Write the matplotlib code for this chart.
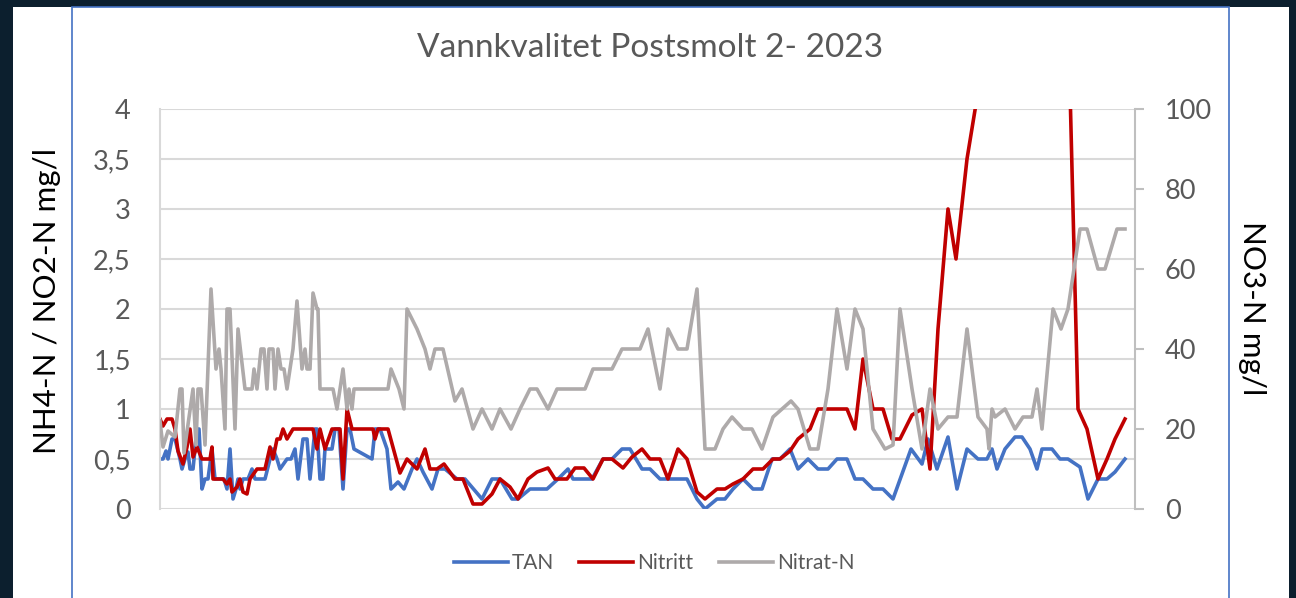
import matplotlib
matplotlib.use("Agg")
import matplotlib.pyplot as plt
from matplotlib.patches import Rectangle
from matplotlib.ticker import MultipleLocator, FuncFormatter

# ---------------- data (day index from start of period) ----------------
tan_day = [0, 0.6, 1.2, 1.6, 2.4, 3, 4, 4.4, 5, 5.6, 6, 6.6, 7.4, 7.8, 8.4, 9, 9.6, 10.4, 11, 12.8,
           13.4, 14, 14.6, 15.2, 15.6, 16, 16.6, 17.6, 18.4, 19, 21, 22, 22.6, 23.4, 24, 25.4, 26.2, 27,
           27.6, 28.6, 29.4, 30, 31, 31.4, 32, 32.6, 33, 34.4, 35, 35.8, 36.6, 37.4, 38, 38.8, 42.4, 43,
           44, 45.4, 46.2, 47.6, 48.8, 50.4, 51.4, 52.6, 54.4, 55.6, 57, 59.4, 61, 64.4, 66.4, 68, 70.4,
           71.6, 74, 77.4, 79.6, 81.6, 82.6, 86.4, 88.6, 90.4, 92.4, 94, 96.4, 98, 100, 105.4, 107.4, 109,
           111.4, 113, 114.6, 116.6, 118.6, 120.4, 122.4, 124, 126, 127.6, 129.6, 131.6, 133.6, 135.4,
           137.4, 139, 140.6, 142.6, 144.6, 146.6, 150.2, 152.4, 153.6, 155.4, 157.6, 159.4, 161.4, 163.6,
           165.4, 166.4, 167.4, 169, 171, 172.4, 174, 175.4, 176.4, 178.4, 180, 181.6, 184, 185.6, 187.6,
           189.4, 191, 193]
tan_val = [0.5, 0.5, 0.58, 0.5, 0.7, 0.7, 0.5, 0.4, 0.5, 0.57, 0.4, 0.4, 0.8, 0.8, 0.2, 0.3, 0.3, 0.6, 0.3, 0.3,
           0.2, 0.6, 0.1, 0.2, 0.3, 0.2, 0.3, 0.3, 0.4, 0.3, 0.3, 0.5, 0.6, 0.5, 0.4, 0.5, 0.5, 0.6,
           0.3, 0.7, 0.7, 0.3, 0.8, 0.8, 0.3, 0.3, 0.6, 0.6, 0.8, 0.8, 0.2, 0.8, 0.8, 0.6, 0.5, 0.8,
           0.8, 0.6, 0.2, 0.27, 0.2, 0.4, 0.5, 0.37, 0.2, 0.4, 0.4, 0.3, 0.3, 0.1, 0.3, 0.3, 0.1,
           0.1, 0.2, 0.2, 0.3, 0.4, 0.3, 0.3, 0.5, 0.5, 0.6, 0.6, 0.4, 0.4, 0.3, 0.3, 0.1, 0.0,
           0.1, 0.1, 0.2, 0.3, 0.2, 0.2, 0.5, 0.5, 0.6, 0.4, 0.5, 0.4, 0.4, 0.5,
           0.5, 0.3, 0.3, 0.2, 0.2, 0.1, 0.6, 0.45, 0.7, 0.4, 0.72, 0.2, 0.6, 0.5,
           0.5, 0.6, 0.4, 0.6, 0.72, 0.72, 0.6, 0.4, 0.6, 0.6, 0.5, 0.5, 0.42, 0.1, 0.3,
           0.3, 0.37, 0.5]

nitritt_day = [0, 0.6, 1.4, 2.4, 3, 3.6, 4.6, 5.4, 6, 6.6, 7.4, 8.4, 10, 10.4, 10.6, 12.6, 13.4, 14, 14.4,
               15.4, 16, 16.6, 17.4, 18, 19.4, 21, 22, 22.6, 23.4, 24, 24.6, 25.4, 26.6, 30.6, 31.4, 32, 33,
               34.4, 36, 36.6, 37.4, 38.4, 42.6, 43, 43.6, 45.6, 48, 49.4, 51.4, 53, 54, 55.4, 56.8, 59,
               60.6, 62.6, 64.4, 66.4, 68, 70, 71.6, 73.6, 75.4, 77.6, 79, 81.4, 83, 84.8, 86.6, 88.6,
               90.4, 92.6, 94.4, 96.4, 98, 100, 101.6, 103.6, 105.4, 107.4, 109, 111.4, 113, 114.6, 116.6,
               118.6, 120.6, 122.6, 124, 126, 127.6, 130, 131.6, 137.4, 139, 140.6, 142.6, 144.6, 146.4,
               148, 150.4, 152.4, 154, 155.6, 157.6, 159.2, 161.4, 165, 168, 171, 174, 177, 179.6, 181.6,
               183.6, 185.4, 187.6, 189.4, 191, 193]
nitritt_val = [0.9, 0.83, 0.9, 0.9, 0.8, 0.58, 0.45, 0.62, 0.8, 0.52, 0.62, 0.5, 0.5, 0.62, 0.3, 0.3, 0.25, 0.3, 0.17,
               0.22, 0.3, 0.17, 0.15, 0.3, 0.4, 0.4, 0.62, 0.5, 0.7, 0.7, 0.8, 0.7, 0.8, 0.8, 0.6, 0.8, 0.6,
               0.8, 0.8, 0.3, 1.0, 0.8, 0.8, 0.7, 0.8, 0.8, 0.36, 0.5, 0.4, 0.6, 0.4, 0.4, 0.45, 0.3,
               0.3, 0.05, 0.05, 0.15, 0.3, 0.22, 0.1, 0.3, 0.37, 0.41, 0.3, 0.3, 0.41, 0.41, 0.3, 0.5,
               0.5, 0.41, 0.52, 0.6, 0.5, 0.5, 0.3, 0.6, 0.5, 0.17, 0.1, 0.2, 0.2, 0.25, 0.3,
               0.4, 0.4, 0.5, 0.5, 0.58, 0.7, 0.8, 1.0, 1.0, 0.8, 1.5, 1.0, 1.0, 0.7,
               0.7, 0.94, 1.0, 0.4, 1.8, 3.0, 2.5, 3.5, 4.6, 5.4, 6.0, 6.6, 6.2, 5.6, 5.0,
               1.0, 0.8, 0.3, 0.5, 0.7, 0.9]

nitrat_day = [0, 0.6, 1.6, 3, 4, 4.4, 4.8, 6.6, 7.2, 7.6, 8.2, 9, 10.2, 11.2, 11.8, 12.2, 13, 13.4, 14, 15,
              15.6, 17, 18.4, 18.8, 19.4, 20.2, 20.8, 21.4, 21.8, 22.6, 23, 23.6, 24.2, 24.8, 25.4, 26.6,
              27.4, 28.4, 29, 29.4, 30, 30.6, 31.4, 31.6, 32, 34.6, 35.4, 36.6, 37.4, 37.8, 38.4, 38.8,
              45.6, 46.2, 47.8, 48.8, 49.4, 51.4, 53, 54, 55, 56.6, 59, 60.4, 62.6, 64.4, 66.4, 68, 70.2,
              72, 74, 75.4, 77.6, 79.4, 85, 86.6, 90.4, 92.4, 96, 97.6, 100, 101.6, 103.6, 105.4, 107.4,
              109, 111, 112.6, 114.4, 116.6, 118.4, 120.4, 122.6, 124.4, 126.2, 127.6, 130, 131.6, 133.6,
              135.4, 137.4, 139, 140.6, 142.6, 145, 146.6, 148, 150.4, 152.4, 154, 155.6, 157.6, 159.4,
              161.4, 163.6, 165.4, 165.8, 166.4, 167, 169, 171, 172.6, 174.4, 175.4, 176.4, 178.6, 180.2,
              181.6, 184, 185.4, 187.6, 189, 191.4, 193]
nitrat_val = [22, 15.5, 19.5, 18, 30, 30, 14, 30, 16, 30, 30, 16, 55, 35, 40, 35, 20, 50, 50, 20,
              45, 30, 30, 35, 30, 40, 40, 30, 40, 40, 30, 40, 35, 35, 30, 40,
              52, 35, 40, 35, 35, 54, 50, 50, 30, 30, 25, 35, 25, 30, 25, 30,
              30, 35, 30, 25, 50, 45, 40, 35, 40, 40, 27, 30, 20, 25, 20, 25, 20,
              25, 30, 30, 25, 30, 30, 35, 35, 40, 40, 45, 30, 45, 40, 40, 55,
              15, 15, 20, 23, 20, 20, 15, 23, 25, 27, 25, 15, 15, 30,
              50, 35, 50, 45, 20, 15, 16, 50, 30, 15, 30, 20, 23, 23,
              45, 23, 20, 15, 25, 23, 25, 20, 23, 23, 30, 20, 50, 45,
              50, 70, 70, 60, 60, 70, 70]

title = "Vannkvalitet Postsmolt 2- 2023"
left_label = "NH4-N / NO2-N mg/l"
right_label = "NO3-N mg/l"
series_names = ["TAN", "Nitritt", "Nitrat-N"]

# ---------------- styling ----------------
FONT = ["Lato", "DejaVu Sans"]
plt.rcParams["font.family"] = FONT
TXT = "#595959"
GRID = "#d9d9d9"
C_TAN, C_NO2, C_NO3 = "#4472c4", "#c00000", "#aeaaaa"

W, H = 1296, 598
fig = plt.figure(figsize=(W / 100, H / 100), dpi=100, facecolor="#0c1f2e")
fig.patches.append(Rectangle((13 / W, 0), (1289 - 13) / W, (H - 7) / H, transform=fig.transFigure,
                             facecolor="white", edgecolor="none", zorder=-10))
fig.patches.append(Rectangle((72 / W, -0.02), (1229 - 72) / W, (H - 7) / H + 0.02, transform=fig.transFigure,
                             facecolor="none", edgecolor="#4472c4", lw=1.2, zorder=-5))

ax = fig.add_axes([160 / W, 89 / H, 975 / W, 400 / H])
ax.patch.set_alpha(0)
ax2 = ax.twinx()
ax2.patch.set_alpha(0)

ax.plot(tan_day, tan_val, color=C_TAN, lw=2.6, solid_joinstyle="round", label=series_names[0])
ax.plot(nitritt_day, nitritt_val, color=C_NO2, lw=2.6, solid_joinstyle="round", label=series_names[1])
ax2.plot(nitrat_day, nitrat_val, color=C_NO3, lw=2.6, solid_joinstyle="round", label=series_names[2])

ax.set_xlim(0, 195)
ax.set_ylim(0, 4)
ax2.set_ylim(0, 100)
ax.yaxis.set_major_locator(MultipleLocator(0.5))
ax.yaxis.set_major_formatter(FuncFormatter(lambda v, p: f"{v:g}".replace(".", ",")))
ax2.yaxis.set_major_locator(MultipleLocator(20))
ax.set_xticks([])
ax.grid(axis="y", color=GRID, lw=1.5)
ax.set_axisbelow(True)

for a in (ax, ax2):
    for s in ("top", "bottom", "left", "right"):
        a.spines[s].set_visible(False)
ax.spines["left"].set_visible(True)
ax.spines["left"].set_color(GRID)
ax.spines["left"].set_linewidth(1.5)
ax2.spines["right"].set_visible(True)
ax2.spines["right"].set_color("#bfbfbf")
ax2.spines["right"].set_linewidth(1.5)

ax.tick_params(axis="y", length=0, pad=21, labelsize=19.5, labelcolor=TXT)
ax2.tick_params(axis="y", length=6.5, width=1.5, color="#bfbfbf", pad=15, labelsize=19.5, labelcolor=TXT)

fig.text(650 / W, 1 - 48 / H, title, ha="center", va="center", fontsize=24, color=TXT)
fig.text(47 / W, 1 - 301 / H, left_label, ha="center", va="center", rotation=90, fontsize=22.5, color="black")
fig.text(1252 / W, 1 - 308 / H, right_label, ha="center", va="center", rotation=270, fontsize=22.5, color="black")

handles = ax.get_lines() + ax2.get_lines()
fig.legend(handles, series_names, loc="center", bbox_to_anchor=(654 / W, 1 - 563 / H), ncol=3,
           frameon=False, fontsize=15, labelcolor=TXT, handlelength=2.6, handletextpad=0.2,
           columnspacing=1.2)

fig.savefig("out.png", dpi=100, facecolor=fig.get_facecolor())
